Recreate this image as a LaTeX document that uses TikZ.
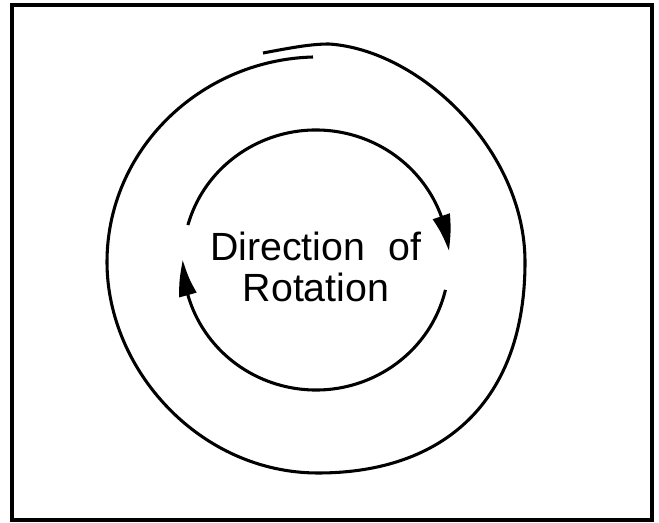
\documentclass[tikz,border=0pt]{standalone}
\usepackage{fontspec}
\setmainfont{Liberation Sans}
\usetikzlibrary{arrows.meta,bending}

\tikzset{
rotarrow/.style={-{Triangle[length=27pt,width=13pt,bend]}},
rottext/.style={anchor=base,inner sep=0pt,font=\fontsize{29.5}{32}\selectfont}}

\begin{document}
\begin{tikzpicture}[x=0.75pt,y=0.75pt,yscale=-1,xscale=1,line width=2.3pt]
\useasboundingbox (0,0) rectangle (659,523);

%Shape: Rectangle [id:frame]
\draw   (12,5) -- (652,5) -- (652,520) -- (12,520) -- cycle ;
%Curve Lines [id:outerloop]
\draw   (263,53) .. controls (290,48) and (310,44) .. (329,44)
        .. controls (420,50) and (525,150) .. (525,262)
        .. controls (525,400) and (445,473) .. (318,473)
        .. controls (200,473) and (107,370) .. (107,262)
        .. controls (107,150) and (200,60) .. (313,57) ;
%Shape: Arc [id:innertop]
\draw [rotarrow]  (316,260) ++(-164.4:133 and 130) arc [start angle=-164.4, end angle=-4, x radius=133, y radius=130] ;
%Shape: Arc [id:innerbottom]
\draw [rotarrow]  (316,260) ++(13.3:133 and 130) arc [start angle=13.3, end angle=180, x radius=133, y radius=130] ;

% Text Node
\node [rottext] (direction) at (316,260.5) {Direction\hspace{0.6em}of};
% Text Node
\node [rottext] (rotation) at (316,301.5) {Rotation};

\end{tikzpicture}
\end{document}
